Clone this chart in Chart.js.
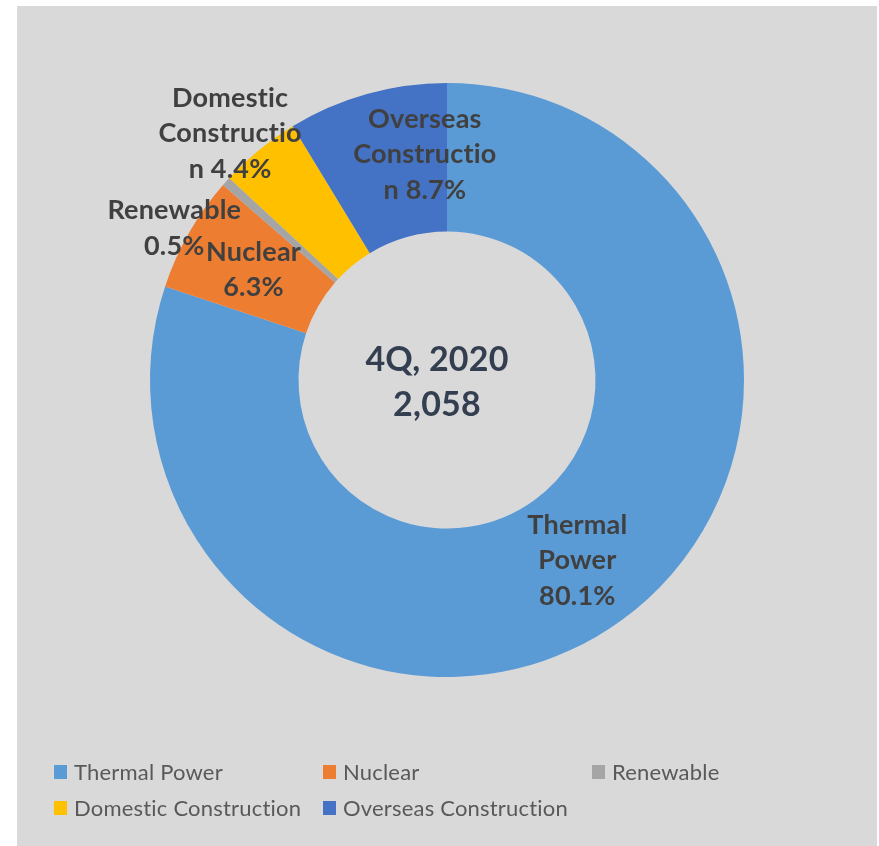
<!DOCTYPE html>
<html>
<head>
<meta charset="utf-8">
<script src="https://cdn.jsdelivr.net/npm/chart.js@4.4.0/dist/chart.umd.min.js"></script>
<style>
  html, body { margin: 0; padding: 0; background: #ffffff; }
  #wrap { position: relative; width: 879px; height: 846px; }
</style>
</head>
<body>
<div id="wrap"><canvas id="c" width="879" height="846"></canvas></div>
<script>
// ---- Data ----
const categories = ["Thermal Power", "Nuclear", "Renewable", "Domestic Construction", "Overseas Construction"];
const shares = [80.1, 6.3, 0.5, 4.4, 8.7];
const sliceLabelLines = [
  ["Thermal", "Power", "80.1%"],
  ["Nuclear", "6.3%"],
  ["Renewable", "0.5%"],
  ["Domestic", "Constructio", "n 4.4%"],
  ["Overseas", "Constructio", "n 8.7%"]
];
const centerLines = ["4Q, 2020", "2,058"];

// ---- Styles ----
const colors = ["#5b9bd5", "#ed7d31", "#a5a5a5", "#ffc000", "#4472c4"];
const labelOffsets = [[0, 0], [0, 0], [-107, -3], [-76, -74], [38, -11]];
const FONT = "Lato, 'Noto Sans', sans-serif";

const bgPlugin = {
  id: 'bg',
  beforeDraw(chart) {
    const ctx = chart.ctx;
    ctx.save();
    ctx.fillStyle = '#ffffff';
    ctx.fillRect(0, 0, chart.width, chart.height);
    ctx.fillStyle = '#d9d9d9';
    ctx.fillRect(17, 6, 860, 840);
    ctx.restore();
  }
};

const labelPlugin = {
  id: 'sliceLabels',
  afterDatasetsDraw(chart) {
    const ctx = chart.ctx;
    const meta = chart.getDatasetMeta(0);
    ctx.save();
    if ('letterSpacing' in ctx) ctx.letterSpacing = '0.2px';
    ctx.fillStyle = '#404040';
    ctx.font = "bold 27px " + FONT;
    ctx.textAlign = 'center';
    ctx.textBaseline = 'middle';
    const lh = 35.5;
    meta.data.forEach((arc, i) => {
      const p = arc.getCenterPoint();
      const x = p.x + labelOffsets[i][0];
      const y = p.y + labelOffsets[i][1];
      const lines = sliceLabelLines[i];
      const y0 = y - (lines.length - 1) * lh / 2;
      lines.forEach((t, k) => ctx.fillText(t, x, y0 + k * lh));
    });
    // center text
    const cx = (chart.chartArea.left + chart.chartArea.right) / 2 - 10;
    const cy = (chart.chartArea.top + chart.chartArea.bottom) / 2;
    ctx.fillStyle = '#333f50';
    ctx.font = "bold 34px " + FONT;
    ctx.fillText(centerLines[0], cx, cy - 20);
    ctx.fillText(centerLines[1], cx, cy + 25);
    // legend
    ctx.font = "22px " + FONT;
    ctx.textAlign = 'left';
    const colX = [54, 323, 592];
    const rowY = [772, 808];
    categories.forEach((name, i) => {
      const col = i % 3, row = Math.floor(i / 3);
      const lx = colX[col], ly = rowY[row];
      ctx.fillStyle = colors[i];
      ctx.fillRect(lx, ly - 7, 13, 14);
      ctx.fillStyle = '#595959';
      ctx.fillText(name, lx + 20, ly + 1);
    });
    ctx.restore();
  }
};

new Chart(document.getElementById('c'), {
  type: 'doughnut',
  data: {
    labels: categories,
    datasets: [{
      data: shares,
      backgroundColor: colors,
      borderWidth: 0,
      hoverOffset: 0
    }]
  },
  options: {
    responsive: false,
    animation: false,
    cutout: '50%',
    layout: { padding: { left: 150, right: 135, top: 83, bottom: 169 } },
    plugins: {
      legend: { display: false },
      tooltip: { enabled: false }
    }
  },
  plugins: [bgPlugin, labelPlugin]
});
</script>
</body>
</html>
